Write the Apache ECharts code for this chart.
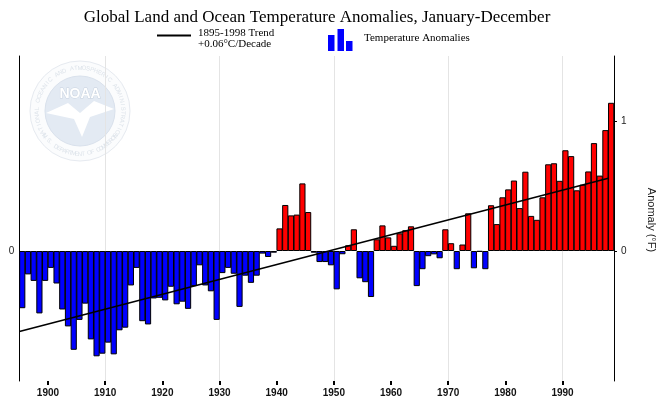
<!DOCTYPE html>
<html>
<head>
<meta charset="utf-8">
<script src="https://cdn.jsdelivr.net/npm/echarts@6/dist/echarts.min.js"></script>
<style>
html,body{margin:0;padding:0;background:#fff;}
#chart{width:670px;height:409px;}
</style>
</head>
<body>
<div id="chart"></div>
<script>
// ---------- data ----------
const startYear = 1895;
const endYear = 1998;
const years = [];
for (let y = startYear; y <= endYear; y++) years.push(String(y));

// annual anomalies (°F), 1895 .. 1998
const anomalies = [
  -0.44, -0.18, -0.23, -0.48, -0.23,               // 1895-1899
  -0.13, -0.25, -0.45, -0.58, -0.76,               // 1900-1904
  -0.53, -0.405, -0.68, -0.81, -0.79,              // 1905-1909
  -0.705, -0.795, -0.61, -0.59, -0.265,            // 1910-1914
  -0.13, -0.54, -0.565, -0.365, -0.36,             // 1915-1919
  -0.38, -0.275, -0.41, -0.39, -0.445,             // 1920-1924
  -0.27, -0.11, -0.265, -0.31, -0.53,              // 1925-1929
  -0.17, -0.13, -0.175, -0.43, -0.19,              // 1930-1934
  -0.245, -0.19, -0.02, -0.046, -0.013,            // 1935-1939
  0.174, 0.354, 0.274, 0.28, 0.52,                 // 1940-1944
  0.30, -0.013, -0.085, -0.085, -0.11,             // 1945-1949
  -0.295, -0.025, 0.044, 0.167, -0.21,             // 1950-1954
  -0.24, -0.354, 0.09, 0.197, 0.105,               // 1955-1959
  0.04, 0.136, 0.16, 0.19, -0.27,                  // 1960-1964
  -0.14, -0.04, -0.026, -0.056, 0.167,             // 1965-1969
  0.06, -0.14, 0.05, 0.29, -0.133,                 // 1970-1974
  -0.006, -0.14, 0.352, 0.207, 0.413,              // 1975-1979
  0.474, 0.542, 0.33, 0.61, 0.27,                  // 1980-1984
  0.24, 0.413, 0.667, 0.675, 0.54,                 // 1985-1989
  0.775, 0.73, 0.467, 0.51, 0.612,                 // 1990-1994
  0.83, 0.58, 0.93, 1.14                           // 1995-1998
];

// 1895-1998 linear trend (°F)
const trendYears = [1895, 1998];
const trendValues = [-0.62, 0.56];

const decadeTicks = [1900, 1910, 1920, 1930, 1940, 1950, 1960, 1970, 1980, 1990];
const rightTicks = [0, 1];
const leftTicks = [0];

const titleText = 'Global Land and Ocean Temperature Anomalies, January-December';
const legendTrend1 = '1895-1998 Trend';
const legendTrend2 = '+0.06\u00B0C/Decade';
const legendBars = 'Temperature Anomalies';
const yAxisTitle = 'Anomaly (\u00B0F)';

// ---------- decoration: faint NOAA seal ----------
function noaaSeal(cx, cy) {
  const els = [];
  els.push({type: 'circle', shape: {cx: cx, cy: cy, r: 50}, style: {fill: '#fbfcfd', stroke: '#e6eaf0', lineWidth: 1}, z: 0, silent: true});
  els.push({type: 'circle', shape: {cx: cx, cy: cy, r: 35}, style: {fill: '#e3eaf3', stroke: '#d9e1ec', lineWidth: 1}, z: 0, silent: true});
  els.push({type: 'polygon', shape: {points: [[cx-34, cy+2], [cx-12, cy-8], [cx, cy+2], [cx+14, cy-10], [cx+34, cy-2], [cx+10, cy+6], [cx+2, cy+26], [cx-6, cy+8]]}, style: {fill: '#ffffff'}, z: 0, silent: true});
  els.push({type: 'text', x: cx, y: cy - 17, style: {text: 'NOAA', font: 'bold 14px "Liberation Sans", Arial, sans-serif', fill: '#ffffff', stroke: '#c9d3e0', lineWidth: 1, align: 'center', verticalAlign: 'middle'}, z: 0, silent: true});
  const top = 'NATIONAL OCEANIC AND ATMOSPHERIC ADMINISTRATION';
  const n = top.length, span = 250 * Math.PI / 180;
  for (let i = 0; i < n; i++) {
    const th = -span / 2 + span * i / (n - 1);
    els.push({type: 'text', x: cx + 43 * Math.sin(th), y: cy - 43 * Math.cos(th), rotation: -th,
      style: {text: top[i], font: '6px "Liberation Sans", Arial, sans-serif', fill: '#dde3ea', align: 'center', verticalAlign: 'middle'}, z: 0, silent: true});
  }
  const bot = 'U.S. DEPARTMENT OF COMMERCE';
  const m = bot.length, span2 = 110 * Math.PI / 180;
  for (let i = 0; i < m; i++) {
    const th = Math.PI + span2 / 2 - span2 * i / (m - 1);
    els.push({type: 'text', x: cx + 43 * Math.sin(th), y: cy - 43 * Math.cos(th), rotation: -(th - Math.PI),
      style: {text: bot[i], font: '6px "Liberation Sans", Arial, sans-serif', fill: '#dde3ea', align: 'center', verticalAlign: 'middle'}, z: 0, silent: true});
  }
  return els;
}

const serif = '"Liberation Serif", "Times New Roman", serif';
const sans = '"Liberation Sans", Arial, sans-serif';

const graphics = [].concat(noaaSeal(80, 111), [
  {type: 'text', x: 317, y: 17.5, style: {text: titleText, font: '17px ' + serif, fill: '#000', align: 'center', verticalAlign: 'middle'}},
  {type: 'line', shape: {x1: 157, y1: 35.5, x2: 191, y2: 35.5}, style: {stroke: '#000', lineWidth: 2}},
  {type: 'text', x: 198, y: 33, style: {text: legendTrend1, font: '11px ' + serif, fill: '#000', align: 'left', verticalAlign: 'middle'}},
  {type: 'text', x: 198, y: 44, style: {text: legendTrend2, font: '11px ' + serif, fill: '#000', align: 'left', verticalAlign: 'middle'}},
  {type: 'rect', shape: {x: 328, y: 35, width: 6.5, height: 16}, style: {fill: '#0000ff'}},
  {type: 'rect', shape: {x: 337.5, y: 29, width: 6.5, height: 22}, style: {fill: '#0000ff'}},
  {type: 'rect', shape: {x: 346, y: 41, width: 6.5, height: 10}, style: {fill: '#0000ff'}},
  {type: 'text', x: 364, y: 38.5, style: {text: legendBars, font: '11px ' + serif, fill: '#000', align: 'left', verticalAlign: 'middle'}},
  {type: 'text', x: 651, y: 220, rotation: -Math.PI / 2, style: {text: yAxisTitle, font: '11px ' + sans, fill: '#222', align: 'center', verticalAlign: 'middle'}}
]);

const chart = echarts.init(document.getElementById('chart'), null, {renderer: 'canvas'});
chart.setOption({
  animation: false,
  backgroundColor: '#ffffff',
  grid: {left: 19.4, right: 56, top: 56, height: 325, containLabel: false},
  xAxis: [
    {
      type: 'category', data: years, gridIndex: 0, show: false, boundaryGap: true,
      axisLine: {show: false, onZero: false}, axisTick: {show: false}, axisLabel: {show: false}
    },
    {
      type: 'value', gridIndex: 0, position: 'bottom', min: 1895, max: 1999, interval: 5,
      axisLine: {show: false, onZero: false},
      axisTick: {show: true, customValues: decadeTicks, length: 4, lineStyle: {color: '#000', width: 2}},
      axisLabel: {show: true, customValues: decadeTicks, margin: 7, fontSize: 10, fontWeight: 'bold', fontFamily: sans, color: '#111',
        formatter: function (v) { return String(v); }},
      splitLine: {show: true, lineStyle: {color: ['rgba(0,0,0,0)', '#e4e4e4'], width: 1}}
    }
  ],
  yAxis: [
    {
      type: 'value', position: 'left', min: -1, max: 1.5, interval: 1,
      axisLine: {show: true, onZero: false, lineStyle: {color: '#000', width: 1}},
      axisTick: {show: false},
      axisLabel: {show: true, customValues: leftTicks, margin: 5, fontSize: 10, fontFamily: sans, color: '#222'},
      splitLine: {show: false}
    },
    {
      type: 'value', position: 'right', min: -1, max: 1.5, interval: 1,
      axisLine: {show: true, onZero: false, lineStyle: {color: '#000', width: 1}},
      axisTick: {show: true, customValues: rightTicks, length: 3, lineStyle: {color: '#000', width: 1}},
      axisLabel: {show: true, customValues: rightTicks, margin: 7, fontSize: 10, fontFamily: sans, color: '#222'},
      splitLine: {show: false}
    }
  ],
  series: [
    {
      name: 'Temperature Anomalies', type: 'bar', xAxisIndex: 0, yAxisIndex: 0,
      data: anomalies, barWidth: 6.2, z: 2,
      itemStyle: {
        color: function (p) { return p.value >= 0 ? '#ff0000' : '#0000ff'; },
        borderColor: '#000', borderWidth: 1
      }
    },
    {
      name: 'Trend', type: 'line', xAxisIndex: 1, yAxisIndex: 0, z: 5,
      data: trendYears.map(function (y, i) { return [y, trendValues[i]]; }),
      symbol: 'none', lineStyle: {color: '#000', width: 1.6}
    }
  ],
  graphic: graphics
});
</script>
</body>
</html>
